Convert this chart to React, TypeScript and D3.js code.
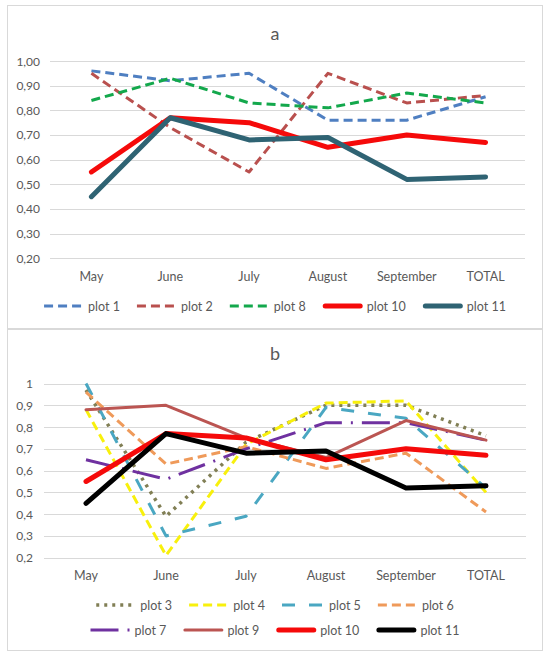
import { useEffect, useRef } from "react";
import * as d3 from "d3";

// categories
const months = ["May", "June", "July", "August", "September", "TOTAL"];

// panel a
const plot1a = [0.96, 0.92, 0.95, 0.76, 0.76, 0.855];
const plot2a = [0.95, 0.73, 0.55, 0.95, 0.83, 0.86];
const plot8a = [0.84, 0.93, 0.83, 0.81, 0.87, 0.83];
const plot10 = [0.55, 0.77, 0.75, 0.65, 0.7, 0.67];
const plot11 = [0.45, 0.77, 0.68, 0.69, 0.52, 0.53];
const ticksA = [0.2, 0.3, 0.4, 0.5, 0.6, 0.7, 0.8, 0.9, 1.0];

// panel b
const plot3 = [0.97, 0.39, 0.73, 0.9, 0.9, 0.76];
const plot4 = [0.88, 0.21, 0.72, 0.91, 0.92, 0.5];
const plot5 = [1.0, 0.3, 0.39, 0.89, 0.84, 0.52];
const plot6 = [0.96, 0.63, 0.71, 0.61, 0.68, 0.41];
const plot7 = [0.65, 0.56, 0.7, 0.82, 0.82, 0.74];
const plot9 = [0.88, 0.9, 0.75, 0.66, 0.83, 0.74];
const ticksB = [0.2, 0.3, 0.4, 0.5, 0.6, 0.7, 0.8, 0.9, 1];

interface Series {
  name: string;
  values: number[];
  color: string;
  width: number;
  dash: string | null;
  legendLen: number;
  legendGap: number;
}

const FONT = "Lato, 'Open Sans', sans-serif";
const TEXT = "#595959";
const GRID = "#d9d9d9";

const seriesA: Series[] = [
  { name: "plot 1", values: plot1a, color: "#4f7fc1", width: 3, dash: "9,5", legendLen: 37, legendGap: 7 },
  { name: "plot 2", values: plot2a, color: "#b9504e", width: 3, dash: "9,5", legendLen: 37, legendGap: 7 },
  { name: "plot 8", values: plot8a, color: "#13a84c", width: 3, dash: "9,5", legendLen: 37, legendGap: 7 },
  { name: "plot 10", values: plot10, color: "#f50a0a", width: 5, dash: null, legendLen: 40, legendGap: 4 },
  { name: "plot 11", values: plot11, color: "#2f6373", width: 5, dash: null, legendLen: 40, legendGap: 4 },
];

const seriesB: Series[] = [
  { name: "plot 3", values: plot3, color: "#817f55", width: 3.5, dash: "3,5", legendLen: 37, legendGap: 7 },
  { name: "plot 4", values: plot4, color: "#f8f00c", width: 3, dash: "9,5", legendLen: 37, legendGap: 7 },
  { name: "plot 5", values: plot5, color: "#4aa7c2", width: 3, dash: "13,14", legendLen: 40, legendGap: 7 },
  { name: "plot 6", values: plot6, color: "#ef9a5a", width: 3, dash: "9,5", legendLen: 37, legendGap: 7 },
  { name: "plot 7", values: plot7, color: "#6f31a0", width: 3, dash: "28,9,2,9", legendLen: 40, legendGap: 4 },
  { name: "plot 9", values: plot9, color: "#bb5552", width: 3, dash: null, legendLen: 40, legendGap: 4 },
  { name: "plot 10", values: plot10, color: "#f50a0a", width: 5, dash: null, legendLen: 40, legendGap: 4 },
  { name: "plot 11", values: plot11, color: "#000000", width: 5, dash: null, legendLen: 40, legendGap: 4 },
];

interface Panel {
  title: string;
  top: number;
  height: number;
  titleY: number;
  xRange: [number, number];
  yRange: [number, number];
  gridX0: number;
  ticks: number[];
  fmt: (d: number) => string;
  yLabelX: number;
  xLabelY: number;
  series: Series[];
  legendRows: number[][];
  legendY: number[];
}

const panels: Panel[] = [
  {
    title: "a",
    top: 5.5,
    height: 323,
    titleY: 33,
    xRange: [52, 525],
    yRange: [258.3, 61],
    gridX0: 50,
    ticks: ticksA,
    fmt: (d) => d.toFixed(2).replace(".", ","),
    yLabelX: 40,
    xLabelY: 276,
    series: seriesA,
    legendRows: [[0, 1, 2, 3, 4]],
    legendY: [306],
  },
  {
    title: "b",
    top: 329.5,
    height: 321,
    titleY: 353,
    xRange: [46, 526],
    yRange: [557.7, 383.5],
    gridX0: 44,
    ticks: ticksB,
    fmt: (d) => String(d).replace(".", ","),
    yLabelX: 33,
    xLabelY: 575,
    series: seriesB,
    legendRows: [
      [0, 1, 2, 3],
      [4, 5, 6, 7],
    ],
    legendY: [605, 630],
  },
];

export default function App() {
  const ref = useRef<SVGSVGElement>(null);

  useEffect(() => {
    const svg = d3.select(ref.current);
    svg.selectAll("*").remove();

    const left = 7.5,
      right = 542.5,
      cx = (left + right) / 2;

    panels.forEach((p) => {
      const g = svg.append("g");

      g.append("rect")
        .attr("x", left)
        .attr("y", p.top)
        .attr("width", right - left)
        .attr("height", p.height)
        .attr("fill", "#fff")
        .attr("stroke", GRID)
        .attr("stroke-width", 1);

      g.append("text")
        .attr("x", cx)
        .attr("y", p.titleY)
        .attr("text-anchor", "middle")
        .attr("dominant-baseline", "central")
        .attr("fill", TEXT)
        .style("font-family", FONT)
        .style("font-size", "18px")
        .text(p.title);

      const x = d3.scalePoint<string>().domain(months).range(p.xRange).padding(0.5);
      const y = d3.scaleLinear().domain([0.2, 1]).range(p.yRange);

      // grid + y labels
      g.selectAll(".grid")
        .data(p.ticks)
        .enter()
        .append("line")
        .attr("x1", p.gridX0)
        .attr("x2", p.xRange[1])
        .attr("y1", (d) => Math.round(y(d)) + 0.5)
        .attr("y2", (d) => Math.round(y(d)) + 0.5)
        .attr("stroke", GRID)
        .attr("stroke-width", 1);

      g.selectAll(".ylab")
        .data(p.ticks)
        .enter()
        .append("text")
        .attr("x", p.yLabelX)
        .attr("y", (d) => y(d))
        .attr("text-anchor", "end")
        .attr("dominant-baseline", "central")
        .attr("fill", TEXT)
        .style("font-family", FONT)
        .style("font-size", "12px")
        .text((d) => p.fmt(d));

      g.selectAll(".xlab")
        .data(months)
        .enter()
        .append("text")
        .attr("x", (d) => x(d) ?? 0)
        .attr("y", p.xLabelY)
        .attr("text-anchor", "middle")
        .attr("dominant-baseline", "central")
        .attr("fill", TEXT)
        .style("font-family", FONT)
        .style("font-size", "12.5px")
        .text((d) => d);

      const line = d3
        .line<number>()
        .x((_, i) => x(months[i]) ?? 0)
        .y((d) => y(d));

      p.series.forEach((s) => {
        g.append("path")
          .datum(s.values)
          .attr("d", line)
          .attr("fill", "none")
          .attr("stroke", s.color)
          .attr("stroke-width", s.width)
          .attr("stroke-linejoin", "round")
          .attr("stroke-linecap", s.dash ? "butt" : "round")
          .attr("stroke-dasharray", s.dash ?? null);
      });

      // legend rows, centred in the panel
      p.legendRows.forEach((row, ri) => {
        const ly = p.legendY[ri];
        const lg = g.append("g");
        let cursor = 0;
        row.forEach((idx, k) => {
          const s = p.series[idx];
          lg.append("line")
            .attr("x1", cursor + (s.dash ? 0 : s.width / 2))
            .attr("x2", cursor + s.legendLen - (s.dash ? 0 : s.width / 2))
            .attr("y1", ly)
            .attr("y2", ly)
            .attr("stroke", s.color)
            .attr("stroke-width", s.width)
            .attr("stroke-linecap", s.dash ? "butt" : "round")
            .attr("stroke-dasharray", s.dash ?? null);
          const t = lg
            .append("text")
            .attr("x", cursor + s.legendLen + s.legendGap)
            .attr("y", ly)
            .attr("dominant-baseline", "central")
            .attr("fill", TEXT)
            .style("font-family", FONT)
            .style("font-size", "12.5px")
            .text(s.name);
          const tw = (t.node() as SVGTextElement).getComputedTextLength();
          cursor += s.legendLen + s.legendGap + tw + (k < row.length - 1 ? 17 : 0);
        });
        lg.attr("transform", `translate(${cx - cursor / 2},0)`);
      });
    });
  }, []);

  return (
    <svg
      ref={ref}
      width={550}
      height={658}
      style={{ position: "absolute", left: 0, top: 0, background: "#fff" }}
    />
  );
}
